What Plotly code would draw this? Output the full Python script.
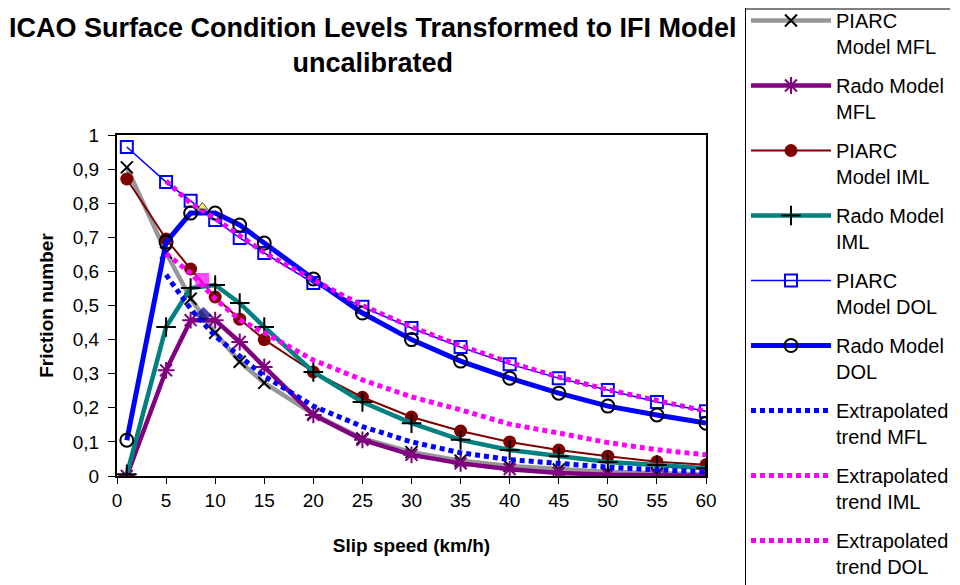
import plotly.graph_objects as go

x_speed = [1, 5, 7.5, 10, 12.5, 15, 20, 25, 30, 35, 40, 45, 50, 55, 60]
x_trend = [5, 7.5, 10, 12.5, 15, 20, 25, 30, 35, 40, 45, 50, 55, 60]

piarc_mfl = [0.905, 0.655, 0.52, 0.42, 0.335, 0.273, 0.182, 0.11, 0.07, 0.045, 0.029, 0.019, 0.012, 0.008, 0.005]
rado_mfl = [0.0, 0.31, 0.457, 0.457, 0.393, 0.32, 0.179, 0.106, 0.062, 0.037, 0.02, 0.009, 0.004, 0.002, 0.001]
piarc_iml = [0.871, 0.695, 0.607, 0.525, 0.46, 0.4, 0.305, 0.231, 0.173, 0.132, 0.1, 0.076, 0.058, 0.042, 0.033]
rado_iml = [0.005, 0.437, 0.551, 0.56, 0.507, 0.437, 0.305, 0.217, 0.155, 0.106, 0.076, 0.058, 0.041, 0.032, 0.023]
piarc_dol = [0.965, 0.862, 0.807, 0.751, 0.698, 0.654, 0.566, 0.496, 0.434, 0.378, 0.328, 0.287, 0.252, 0.217, 0.19]
rado_dol = [0.105, 0.686, 0.771, 0.771, 0.736, 0.683, 0.578, 0.478, 0.4, 0.337, 0.287, 0.243, 0.205, 0.179, 0.155]

trend_mfl = [0.59, 0.49, 0.41, 0.35, 0.293, 0.205, 0.145, 0.1, 0.068, 0.048, 0.036, 0.026, 0.018, 0.012]
trend_iml = [0.652, 0.595, 0.52, 0.458, 0.42, 0.34, 0.282, 0.232, 0.194, 0.152, 0.126, 0.098, 0.077, 0.062]
trend_dol = [0.865, 0.8, 0.755, 0.705, 0.655, 0.575, 0.5, 0.437, 0.382, 0.333, 0.29, 0.253, 0.22, 0.19]

peak_x = [8.7, 8.7, 8.8]
peak_y = [0.789, 0.575, 0.472]

names = ["PIARC<br>Model MFL", "Rado Model<br>MFL", "PIARC<br>Model IML", "Rado Model<br>IML",
         "PIARC<br>Model DOL", "Rado Model<br>DOL", "Extrapolated<br>trend MFL",
         "Extrapolated<br>trend IML", "Extrapolated<br>trend DOL"]

title_text = "<b>ICAO Surface Condition Levels Transformed to IFI Model<br>uncalibrated</b>"

y_ticks = [0, 0.1, 0.2, 0.3, 0.4, 0.5, 0.6, 0.7, 0.8, 0.9, 1]
y_ticktext = ["0", "0,1", "0,2", "0,3", "0,4", "0,5", "0,6", "0,7", "0,8", "0,9", "1"]
x_ticks = [0, 5, 10, 15, 20, 25, 30, 35, 40, 45, 50, 55, 60]

fig = go.Figure()

def add(x, y, name, i, line, marker=None, mode="lines+markers"):
    fig.add_trace(go.Scatter(x=x, y=y, name=name, mode=mode, line=line,
                             marker=marker, legendgroup=f"g{i}"))

add(x_speed, piarc_mfl, names[0], 0, dict(color="#969696", width=4.5),
    dict(symbol="x-thin-open", size=12, line=dict(color="black", width=2), color="black"))
add(x_speed, rado_mfl, names[1], 1, dict(color="#800080", width=4.5),
    dict(symbol="asterisk-open", size=14, line=dict(color="#800080", width=2), color="#800080"))
add(x_speed, piarc_iml, names[2], 2, dict(color="#800000", width=2),
    dict(symbol="circle", size=13, color="#800000"))
add(x_speed, rado_iml, names[3], 3, dict(color="#008080", width=4.5),
    dict(symbol="cross-thin-open", size=14, line=dict(color="black", width=2), color="black"))
add(x_speed, piarc_dol, names[4], 4, dict(color="#0000FF", width=1.5),
    dict(symbol="square-open", size=12, line=dict(color="#0000FF", width=2), color="#0000FF"))
add(x_speed, rado_dol, names[5], 5, dict(color="#0000FF", width=5),
    dict(symbol="circle-open", size=13, line=dict(color="black", width=2), color="black"))
add(x_trend, trend_mfl, names[6], 6, dict(color="#0000FF", width=5, dash="5px,4px"), mode="lines")
add(x_trend, trend_iml, names[7], 7, dict(color="#FF00FF", width=5, dash="5px,4px"), mode="lines")
add(x_trend, trend_dol, names[8], 8, dict(color="#F000F0", width=5, dash="5px,4px"), mode="lines")

fig.add_trace(go.Scatter(x=peak_x, y=peak_y, mode="markers", showlegend=False,
                         marker=dict(symbol=["triangle-up", "square", "diamond"], size=[9, 13, 12],
                                     color=["#FFFF00", "#FF00FF", "#000080"],
                                     line=dict(color=["black", "#FF00FF", "#0000FF"], width=1))))

fig.add_annotation(text=title_text, xref="paper", yref="paper", x=0.4338, y=1.262,
                   xanchor="center", yanchor="middle", showarrow=False,
                   font=dict(size=27, family="Liberation Sans, Arial, sans-serif", color="black"))

# top border of the legend box (the box itself starts just above the page edge)
fig.add_shape(type="line", xref="paper", yref="paper", x0=1.0662, x1=1.4143, y0=1.3695, y1=1.3695,
              line=dict(color="black", width=1))

fig.update_layout(
    width=960, height=585,
    paper_bgcolor="white", plot_bgcolor="white",
    font=dict(family="Liberation Sans, Arial, sans-serif", color="black", size=19),
    margin=dict(l=109, r=262, t=127, b=117, autoexpand=False),
    xaxis=dict(range=[0, 60], tickvals=x_ticks, showline=True, linecolor="black", linewidth=2,
               mirror=True, ticks="outside", ticklen=6, tickcolor="black", showgrid=False, zeroline=False,
               title=dict(text="<b>Slip speed (km/h)</b>", font=dict(size=19), standoff=29)),
    yaxis=dict(range=[0, 1], tickvals=y_ticks, ticktext=y_ticktext, showline=True, linecolor="black",
               linewidth=2, mirror=True, ticks="outside", ticklen=7, tickcolor="black", showgrid=False,
               zeroline=False, ticklabelstandoff=5,
               title=dict(text="<b>Friction number</b>", font=dict(size=19), standoff=14)),
    legend=dict(x=1.0662, xanchor="left", y=1.3959, yanchor="top", bordercolor="black", borderwidth=1,
                bgcolor="rgba(255,255,255,0)", font=dict(size=20), itemwidth=80, tracegroupgap=10,
                traceorder="grouped", valign="top", maxheight=900),
)

fig.write_html("out.html")
